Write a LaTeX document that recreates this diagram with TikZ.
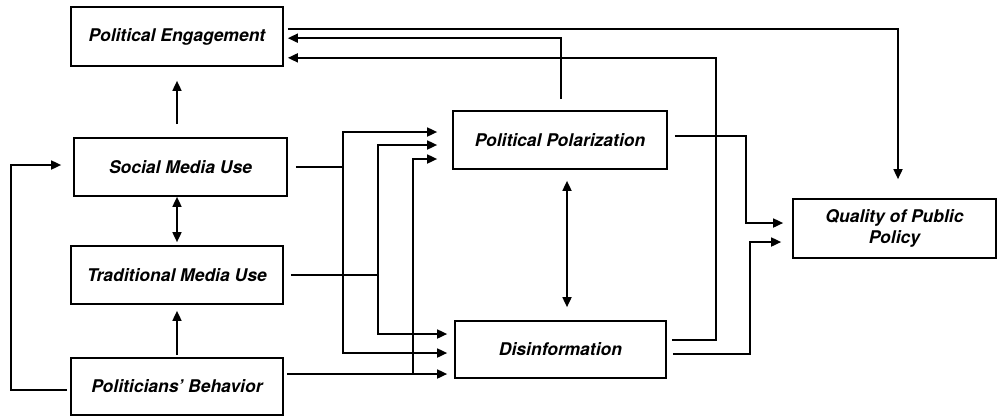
\documentclass[tikz,border=0pt]{standalone}
\usepackage{fontspec}
\setmainfont{TeX Gyre Heros}
\usetikzlibrary{calc,arrows.meta}
\tikzset{
  box/.style={draw, line width=1.7pt, inner sep=0pt, align=center,
    font=\fontsize{17.5}{21}\selectfont\bfseries\itshape},
  conn/.style={line width=1.7pt},
  arr/.style={conn, -{Triangle[length=10pt,width=9pt]}},
  darr/.style={conn, {Triangle[length=10pt,width=9pt]}-{Triangle[length=10pt,width=9pt]}}
}
\begin{document}
\begin{tikzpicture}[x=1pt,y=-1pt]
\useasboundingbox (0,0) rectangle (998,416);
% nodes
\node[box, minimum width=212pt, minimum height=59pt] (pe)  at (177,36.5)   {Political Engagement};
\node[box, minimum width=213pt, minimum height=58pt] (smu) at (180.5,167)  {Social Media Use};
\node[box, minimum width=212pt, minimum height=58pt] (tmu) at (177,275)    {Traditional Media Use};
\node[box, minimum width=212pt, minimum height=57pt] (pb)  at (177,386.5)  {Politicians’ Behavior};
\node[box, minimum width=214pt, minimum height=58pt] (pp)  at (560,140)    {Political Polarization};
\node[box, minimum width=211pt, minimum height=57pt] (di)  at (560.5,349.5){Disinformation};
\node[box, minimum width=203pt, minimum height=59pt] (qp)  at (894.5,228.5){Quality of Public\\Policy};
% junctions
\coordinate (j1) at ($(smu.east)+(55,0)$);
\coordinate (j2) at ($(tmu.east)+(94,0)$);
\coordinate (j3) at ($(pb.east)+(129,-12.5)$);
% Political Engagement -> Quality of Public Policy
\draw[arr] ($(pe.north east)+(4,23)$) -| ($(qp.north)+(3.5,-19)$);
% Polarization -> Engagement
\draw[arr] ($(pp.north)+(1,-11)$) |- ($(pe.north east)+(4,32)$);
% Disinformation -> Engagement
\draw[arr] ($(di.east)+(5,-9.5)$) -- ($(di.east)+(49,-9.5)$) |- ($(pe.south east)+(4,-9)$);
% Social Media -> Engagement
\draw[arr] ($(smu.north)+(-3.5,-13)$) -- ($(pe.south)+(0,14)$);
% Social <-> Traditional
\draw[darr] ($(smu.south)+(-3.5,0)$) -- ($(tmu.north)+(0,-3)$);
% Politicians -> Traditional
\draw[arr] ($(pb.north)+(0,-2)$) -- ($(tmu.south)+(0,6)$);
% Politicians -> Social (loop on left)
\draw[arr] ($(pb.west)+(-3,3.5)$) -- ++(-56,0) |- ($(smu.west)+(-12,-2)$);
% Social Media outputs
\draw[conn] ($(smu.east)+(8,0)$) -- (j1);
\draw[arr] (j1) |- ($(pp.west)+(-15,-8)$);
\draw[arr] (j1) |- ($(di.west)+(-7,3.5)$);
% Traditional Media outputs
\draw[conn] ($(tmu.east)+(7,0)$) -- (j2);
\draw[arr] (j2) |- ($(pp.west)+(-15,5)$);
\draw[arr] (j2) |- ($(di.west)+(-7,-15.5)$);
% Politicians outputs
\draw[arr] ($(pb.east)+(3,-12.5)$) -- ($(di.west)+(-7,24.5)$);
\draw[arr] (j3) |- ($(pp.west)+(-15,19)$);
% Polarization <-> Disinformation
\draw[darr] ($(pp.south)+(7,11)$) -- ($(di.north)+(6.5,-13)$);
% Polarization -> Quality
\draw[arr] ($(pp.east)+(7,-4)$) -- ($(pp.east)+(78,-4)$) |- ($(qp.west)+(-9,-5.5)$);
% Disinformation -> Quality
\draw[arr] ($(di.east)+(6,4.5)$) -- ($(di.east)+(83,4.5)$) |- ($(qp.west)+(-11,13.5)$);
\end{tikzpicture}
\end{document}
